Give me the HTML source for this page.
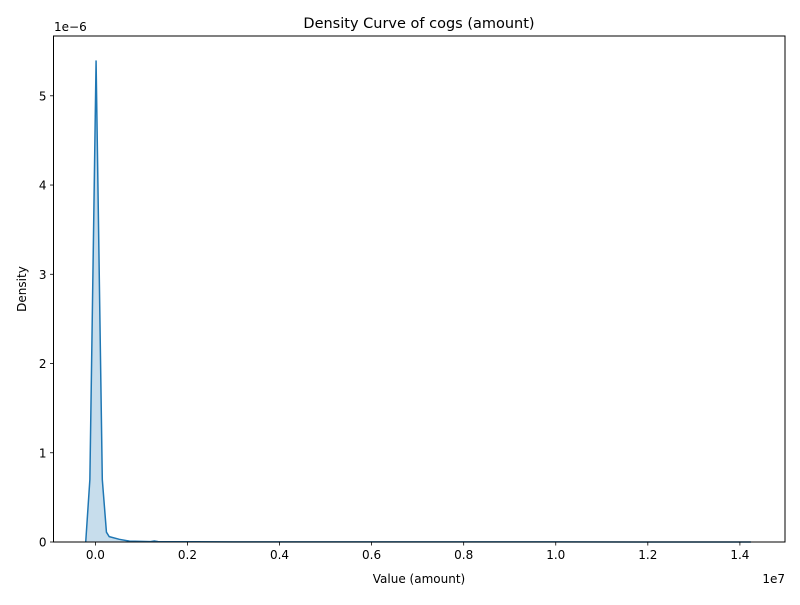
<!DOCTYPE html>
<html><head><meta charset="utf-8"><style>
body{margin:0;background:#fff;font-family:"Liberation Sans","DejaVu Sans",sans-serif}
text{font-family:"DejaVu Sans","Liberation Sans",sans-serif}
</style></head><body>
<svg id="chart" width="800" height="600" xmlns="http://www.w3.org/2000/svg">
<rect width="800" height="600" fill="#fff"/>
<g id="plot"></g>
</svg>
<script>
const xValues = [-0.021, -0.012, 0.0015, 0.015, 0.024, 0.030, 0.052, 0.074, 0.12, 0.128, 0.136, 0.3, 0.6, 1.0, 1.424];
const densityValues = [0, 0.7, 5.39, 0.7, 0.11, 0.06, 0.03, 0.01, 0.004, 0.012, 0.004, 0.002, 0.001, 0.001, 0];
const xTicks = [0, 0.2, 0.4, 0.6, 0.8, 1.0, 1.2, 1.4];
const xTickLabels = ["0.0","0.2","0.4","0.6","0.8","1.0","1.2","1.4"];
const yTicks = [0, 1, 2, 3, 4, 5];

const L=53.5,R=785,T=36,B=542;
const xMin=-0.091,xMax=1.498,yMin=0,yMax=5.67;
const sx=v=>L+(v-xMin)/(xMax-xMin)*(R-L);
const sy=v=>B-(v-yMin)/(yMax-yMin)*(B-T);
const NS="http://www.w3.org/2000/svg";
const g=document.getElementById('plot');
function mk(tag,attrs,txt){const e=document.createElementNS(NS,tag);for(const k in attrs)e.setAttribute(k,attrs[k]);if(txt!==undefined)e.textContent=txt;g.appendChild(e);return e;}

let pts=xValues.map((x,i)=>sx(x).toFixed(2)+','+sy(densityValues[i]).toFixed(2));
const area=mk('polygon',{points:sx(xValues[0])+','+sy(0)+' '+pts.join(' ')+' '+sx(xValues[xValues.length-1])+','+sy(0),fill:'#1f77b4','fill-opacity':'0.25',stroke:'none'});


const line=mk('polyline',{points:pts.join(' '),fill:'none',stroke:'#1f77b4','stroke-width':'1.5','stroke-linejoin':'round'});



const frame=mk('rect',{x:L,y:T,width:R-L,height:B-T,fill:'none',stroke:'#000','stroke-width':'1'});



xTicks.forEach((v,i)=>{
  const x=sx(v);
  const t=mk('line',{x1:x,x2:x,y1:B,y2:B+3.5,stroke:'#000','stroke-width':'0.8'});
  
  
  const l=mk('text',{x:x,y:B+17,'text-anchor':'middle','font-size':'12',fill:'#000'},xTickLabels[i]);
  
  
});
yTicks.forEach(v=>{
  const y=sy(v);
  const t=mk('line',{x1:L-3.5,x2:L,y1:y,y2:y,stroke:'#000','stroke-width':'0.8'});
  
  
  const l=mk('text',{x:L-7,y:y+4.5,'text-anchor':'end','font-size':'12',fill:'#000'},String(v));
  
  
});
const t1=mk('text',{x:419,y:28,'text-anchor':'middle','font-size':'14.5',fill:'#000'},'Density Curve of cogs (amount)');


const t2=mk('text',{x:419,y:583,'text-anchor':'middle','font-size':'12',fill:'#000'},'Value (amount)');


const t3=mk('text',{x:26,y:289,'text-anchor':'middle','font-size':'12',fill:'#000',transform:'rotate(-90 26 289)'},'Density');


const t4=mk('text',{x:54,y:31,'font-size':'12',fill:'#000'},'1e\u22126');


const t5=mk('text',{x:785,y:583,'text-anchor':'end','font-size':'12',fill:'#000'},'1e7');


</script>
</body></html>
